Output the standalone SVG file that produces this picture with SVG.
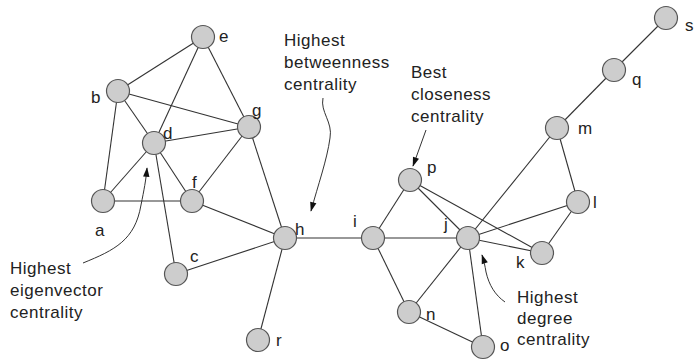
<svg xmlns="http://www.w3.org/2000/svg" width="696" height="360" viewBox="0 0 696 360">
<defs>
<style>
.n{fill:#cdcdcd;stroke:#555;stroke-width:1.2}
.e{stroke:#333;stroke-width:1.1;fill:none}
.l{font-family:"Liberation Sans",Arial,sans-serif;font-size:17px;fill:#222}
.t{font-family:"Liberation Sans",Arial,sans-serif;font-size:17px;letter-spacing:0.5px;fill:#222}
.a{stroke:#333;stroke-width:1;fill:none}
</style>
<marker id="ah" viewBox="0 0 12 10" refX="11" refY="5" markerWidth="11" markerHeight="8" orient="auto" markerUnits="userSpaceOnUse">
<path d="M0,1 L12,5 L0,9 z" fill="#111"/>
</marker>
</defs>
<rect width="696" height="360" fill="#fff"/>
<g id="connectors">
<line class="e" x1="203" y1="37" x2="118" y2="91"/>
<line class="e" x1="203" y1="37" x2="154" y2="143"/>
<line class="e" x1="203" y1="37" x2="249" y2="127"/>
<line class="e" x1="118" y1="91" x2="103" y2="201"/>
<line class="e" x1="118" y1="91" x2="154" y2="143"/>
<line class="e" x1="118" y1="91" x2="249" y2="127"/>
<line class="e" x1="154" y1="143" x2="249" y2="127"/>
<line class="e" x1="154" y1="143" x2="103" y2="201"/>
<line class="e" x1="154" y1="143" x2="192" y2="201"/>
<line class="e" x1="154" y1="143" x2="176" y2="274"/>
<line class="e" x1="103" y1="201" x2="192" y2="201"/>
<line class="e" x1="249" y1="127" x2="192" y2="201"/>
<line class="e" x1="249" y1="127" x2="285" y2="238"/>
<line class="e" x1="192" y1="201" x2="285" y2="238"/>
<line class="e" x1="176" y1="274" x2="285" y2="238"/>
<line class="e" x1="285" y1="238" x2="258" y2="340"/>
<line class="e" x1="285" y1="238" x2="373" y2="238"/>
<line class="e" x1="373" y1="238" x2="410" y2="180"/>
<line class="e" x1="373" y1="238" x2="468" y2="238"/>
<line class="e" x1="373" y1="238" x2="409" y2="312"/>
<line class="e" x1="410" y1="180" x2="468" y2="238"/>
<line class="e" x1="410" y1="180" x2="542" y2="253"/>
<line class="e" x1="468" y1="238" x2="557" y2="128"/>
<line class="e" x1="468" y1="238" x2="578" y2="202"/>
<line class="e" x1="468" y1="238" x2="542" y2="253"/>
<line class="e" x1="468" y1="238" x2="409" y2="312"/>
<line class="e" x1="468" y1="238" x2="483" y2="347"/>
<line class="e" x1="557" y1="128" x2="578" y2="202"/>
<line class="e" x1="557" y1="128" x2="614" y2="70"/>
<line class="e" x1="578" y1="202" x2="542" y2="253"/>
<line class="e" x1="409" y1="312" x2="483" y2="347"/>
<line class="e" x1="614" y1="70" x2="666" y2="18"/>
</g>
<g id="node-a"><circle class="n" cx="103" cy="201" r="11.5"/><text class="l" x="95" y="236">a</text></g>
<g id="node-b"><circle class="n" cx="118" cy="91" r="11.5"/><text class="l" x="91" y="103">b</text></g>
<g id="node-c"><circle class="n" cx="176" cy="274" r="11.5"/><text class="l" x="190" y="262">c</text></g>
<g id="node-d"><circle class="n" cx="154" cy="143" r="11.5"/><text class="l" x="163" y="139">d</text></g>
<g id="node-e"><circle class="n" cx="203" cy="37" r="11.5"/><text class="l" x="219" y="42">e</text></g>
<g id="node-f"><circle class="n" cx="192" cy="201" r="11.5"/><text class="l" x="192" y="188">f</text></g>
<g id="node-g"><circle class="n" cx="249" cy="127" r="11.5"/><text class="l" x="252" y="116">g</text></g>
<g id="node-h"><circle class="n" cx="285" cy="238" r="11.5"/><text class="l" x="295" y="235">h</text></g>
<g id="node-r"><circle class="n" cx="258" cy="340" r="11.5"/><text class="l" x="276" y="346">r</text></g>
<g id="node-i"><circle class="n" cx="373" cy="238" r="11.5"/><text class="l" x="353" y="227">i</text></g>
<g id="node-j"><circle class="n" cx="468" cy="238" r="11.5"/><text class="l" x="444" y="230">j</text></g>
<g id="node-p"><circle class="n" cx="410" cy="180" r="11.5"/><text class="l" x="427" y="173">p</text></g>
<g id="node-k"><circle class="n" cx="542" cy="253" r="11.5"/><text class="l" x="516" y="268">k</text></g>
<g id="node-l"><circle class="n" cx="578" cy="202" r="11.5"/><text class="l" x="593" y="208">l</text></g>
<g id="node-m"><circle class="n" cx="557" cy="128" r="11.5"/><text class="l" x="578" y="134">m</text></g>
<g id="node-n"><circle class="n" cx="409" cy="312" r="11.5"/><text class="l" x="426" y="320">n</text></g>
<g id="node-o"><circle class="n" cx="483" cy="347" r="11.5"/><text class="l" x="500" y="351">o</text></g>
<g id="node-q"><circle class="n" cx="614" cy="70" r="11.5"/><text class="l" x="632" y="85">q</text></g>
<g id="node-s"><circle class="n" cx="666" cy="18" r="11.5"/><text class="l" x="685" y="31">s</text></g>
<g id="annotations">
<text class="t" x="284" y="46">Highest</text>
<text class="t" x="284" y="68">betweenness</text>
<text class="t" x="284" y="90">centrality</text>
<path class="a" d="M323,98 C320,112 333,122 330,138 C327,160 318,185 311,211" marker-end="url(#ah)"/>
<text class="t" x="411" y="78">Best</text>
<text class="t" x="411" y="100">closeness</text>
<text class="t" x="411" y="122">centrality</text>
<path class="a" d="M426,130 L413,166" marker-end="url(#ah)"/>
<text class="t" x="10" y="274">Highest</text>
<text class="t" x="10" y="296">eigenvector</text>
<text class="t" x="10" y="318">centrality</text>
<path class="a" d="M83,263 C115,250 135,240 141,205 C144,190 146,180 147,168" marker-end="url(#ah)"/>
<text class="t" x="517" y="303">Highest</text>
<text class="t" x="517" y="324">degree</text>
<text class="t" x="517" y="345">centrality</text>
<path class="a" d="M505,302 C495,295 489,285 486,272 C485,266 484,261 482,255" marker-end="url(#ah)"/>
</g>
</svg>
